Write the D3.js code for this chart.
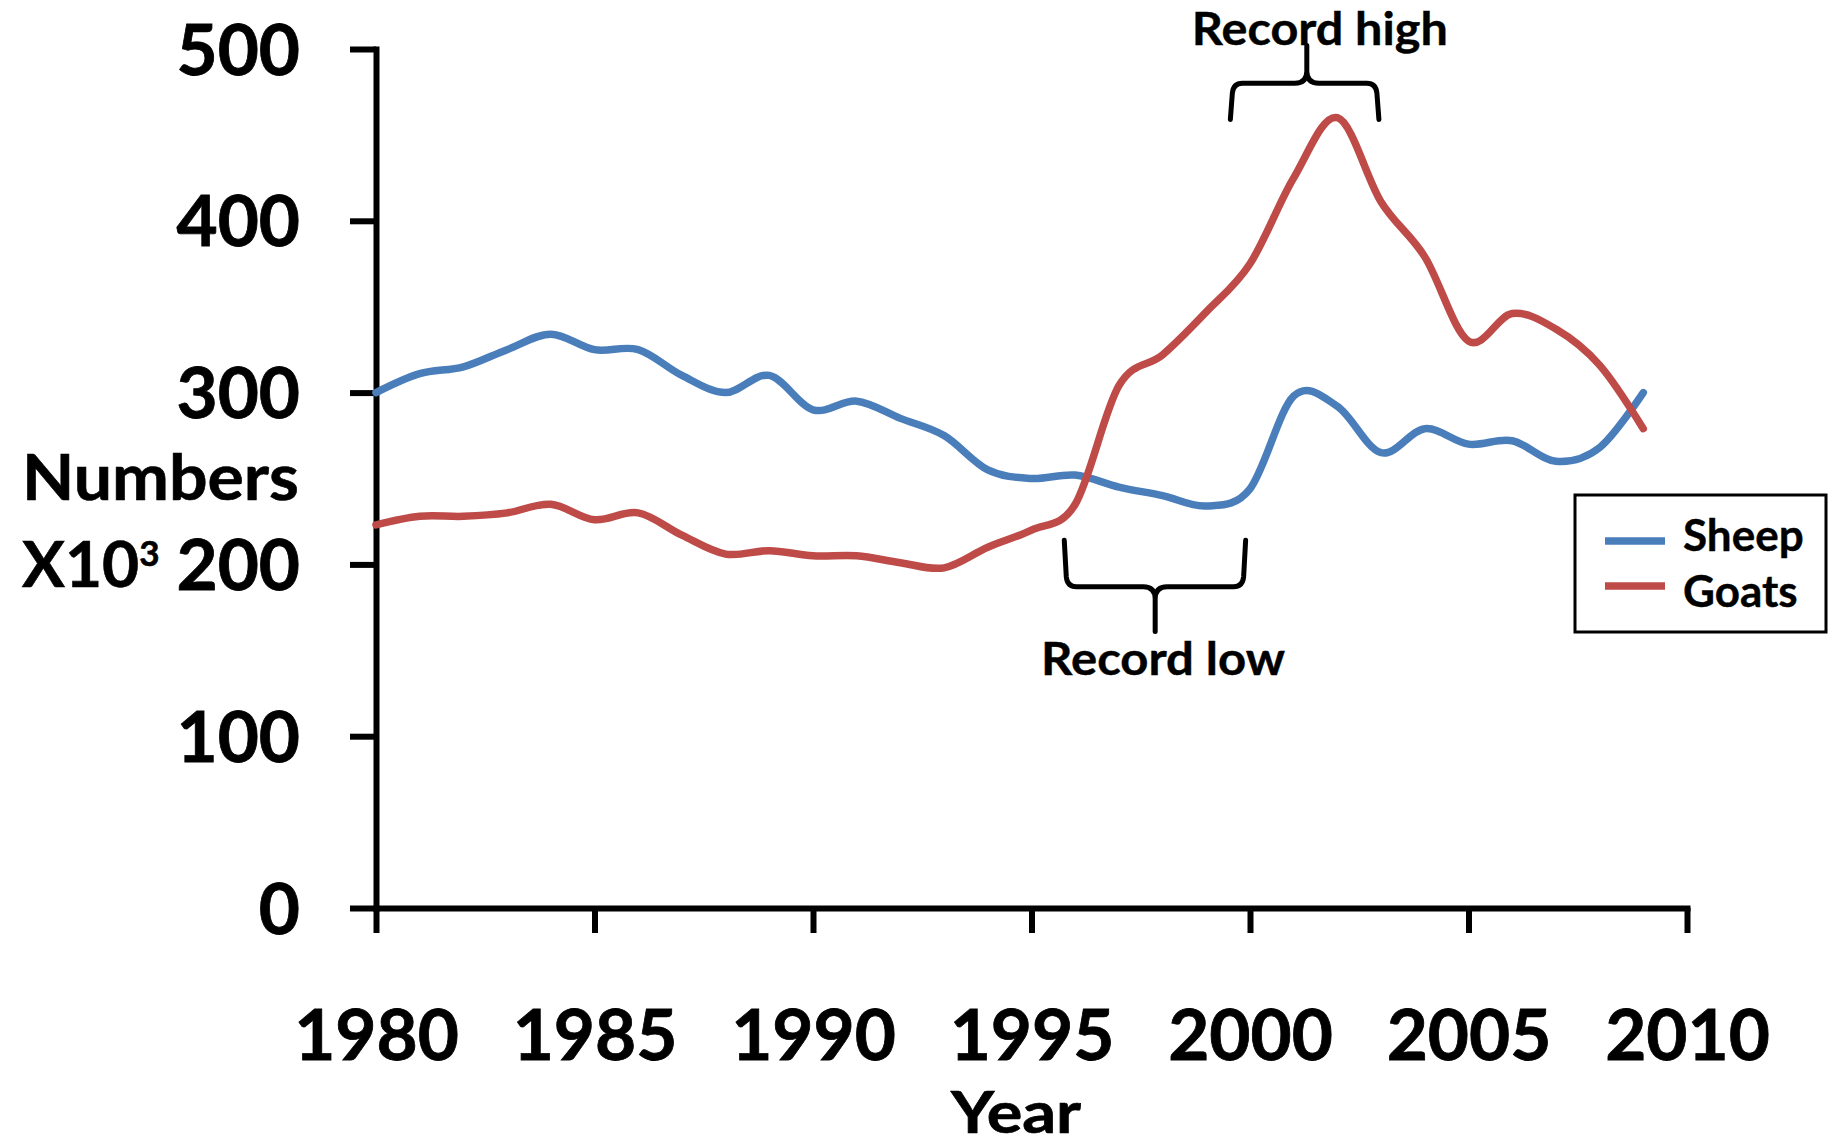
<!DOCTYPE html>
<html>
<head>
<meta charset="utf-8">
<script src="https://cdn.jsdelivr.net/npm/d3@7"></script>
<style>
  html, body { margin: 0; padding: 0; background: #ffffff; }
  svg { display: block; font-family: Lato, "Open Sans", sans-serif; font-weight: bold; }
</style>
</head>
<body>
<svg id="chart" width="1837" height="1145"></svg>
<script>
// ---------- data ----------
const years = [1980,1981,1982,1983,1984,1985,1986,1987,1988,1989,
               1990,1991,1992,1993,1994,1995,1996,1997,1998,1999,
               2000,2001,2002,2003,2004,2005,2006,2007,2008,2009];
const sheep = [300,311,315,325,334,325,325,310,300,310,
               290,295,285,275,255,250,252,245,240,234,
               244,298,292,265,279,270,272,260,268,300];
const goats = [223,228,228,230,235,226,230,217,206,208,
               205,205,201,198,210,220,235,304,322,347,
               375,425,460,411,379,330,346,337,316,279];
const seriesNames = ["Sheep", "Goats"];
const xTicks = [1980,1985,1990,1995,2000,2005,2010];
const yTicks = [0,100,200,300,400,500];
// annotation anchors in data units
const braceHigh = {x0: 1999.55, x1: 2002.95, xm: 2001.3, yEnd: 459, yBar: 480, yTip: 502};
const braceLow  = {x0: 1995.75, x1: 1999.9,  xm: 1997.83, yEnd: 214, yBar: 187, yTip: 161};
const labelHigh = {text: "Record high", x: 1998.67, y: 502.5};
const labelLow  = {text: "Record low",  x: 1995.22, y: 135.7};

// ---------- layout ----------
const svg = d3.select("#chart");
svg.append("rect").attr("width", 1837).attr("height", 1145).attr("fill", "#fff");

const x = d3.scaleLinear().domain([1980, 2010]).range([376, 1687]);
const y = d3.scaleLinear().domain([0, 500]).range([908, 49]);

const colors = {Sheep: "#4A7EBB", Goats: "#BE4B48"};
const AXW = 6;

// y axis
const yAxis = d3.axisLeft(y).tickValues(yTicks).tickSize(26).tickSizeOuter(0).tickPadding(50);
const gy = svg.append("g").attr("transform", `translate(${x(1980)},0)`).call(yAxis);
gy.select(".domain").attr("stroke", "#000").attr("stroke-width", AXW).attr("stroke-linecap", "square");
gy.selectAll(".tick line").attr("stroke", "#000").attr("stroke-width", AXW);
gy.selectAll(".tick text")
  .attr("font-size", 71).attr("font-weight", "bold").attr("fill", "#000")
  .attr("stroke", "#000").attr("stroke-width", 0.8)
  .attr("font-family", "Lato").attr("dy", null).attr("y", 25);

// x axis
const xAxis = d3.axisBottom(x).tickValues(xTicks).tickSize(25).tickSizeOuter(0).tickFormat(d3.format("d"));
const gx = svg.append("g").attr("transform", `translate(0,${y(0)})`).call(xAxis);
gx.select(".domain").attr("stroke", "#000").attr("stroke-width", AXW).attr("stroke-linecap", "square");
gx.selectAll(".tick line").attr("stroke", "#000").attr("stroke-width", AXW);
gx.selectAll(".tick text")
  .attr("font-size", 71).attr("font-weight", "bold").attr("fill", "#000")
  .attr("stroke", "#000").attr("stroke-width", 0.8)
  .attr("font-family", "Lato").attr("dy", null).attr("y", 152);

// axis titles
const yt = svg.append("text").attr("font-size", 64).attr("fill", "#000")
  .attr("stroke", "#000").attr("stroke-width", 0.6);
yt.append("tspan").attr("x", 22).attr("y", 500).attr("textLength", 277)
  .attr("lengthAdjust", "spacingAndGlyphs").text("Numbers");
const yt2 = svg.append("text").attr("font-size", 64).attr("fill", "#000")
  .attr("stroke", "#000").attr("stroke-width", 0.6).attr("x", 22).attr("y", 587);
yt2.append("tspan").text("X10");
yt2.append("tspan").attr("font-size", 35).attr("dy", -21).text("3");

svg.append("text").attr("x", 951).attr("y", 1132.5).attr("font-size", 57).attr("fill", "#000")
  .attr("stroke", "#000").attr("stroke-width", 0.7)
  .attr("textLength", 130).attr("lengthAdjust", "spacingAndGlyphs").text("Year");

// lines
const line = d3.line().x((d, i) => x(years[i])).y(d => y(d)).curve(d3.curveCardinal.tension(0));
[["Sheep", sheep], ["Goats", goats]].forEach(([name, vals]) => {
  svg.append("path").datum(vals)
    .attr("d", line)
    .attr("fill", "none")
    .attr("stroke", colors[name])
    .attr("stroke-width", 7.5)
    .attr("stroke-linecap", "round")
    .attr("stroke-linejoin", "round");
});

// braces
function bracePath(b) {
  const X0 = x(b.x0), X1 = x(b.x1), XM = x(b.xm);
  const YE = y(b.yEnd), YB = y(b.yBar), YT = y(b.yTip);
  const d = Math.sign(YT - YB);
  const r = 10, rc = 12;
  const p = d3.path();
  p.moveTo(X0, YE);
  p.lineTo(X0 + 2, YB - d * r);
  p.quadraticCurveTo(X0 + 3, YB, X0 + r + 2, YB);
  p.lineTo(XM - rc, YB);
  p.quadraticCurveTo(XM, YB, XM, YB + d * rc);
  p.lineTo(XM, YT);
  p.moveTo(XM, YB + d * rc);
  p.quadraticCurveTo(XM, YB, XM + rc, YB);
  p.lineTo(X1 - r - 2, YB);
  p.quadraticCurveTo(X1 - 3, YB, X1 - 2, YB - d * r);
  p.lineTo(X1, YE);
  return p.toString();
}
[braceHigh, braceLow].forEach(b => {
  svg.append("path").attr("d", bracePath(b))
    .attr("fill", "none").attr("stroke", "#000").attr("stroke-width", 5)
    .attr("stroke-linecap", "round").attr("stroke-linejoin", "round");
});
[[labelHigh, 256], [labelLow, 244]].forEach(([l, w]) => {
  svg.append("text").attr("x", x(l.x)).attr("y", y(l.y))
    .attr("font-size", 45).attr("fill", "#000")
    .attr("stroke", "#000").attr("stroke-width", 0.4)
    .attr("textLength", w).attr("lengthAdjust", "spacingAndGlyphs").text(l.text);
});

// legend
const lg = svg.append("g");
lg.append("rect").attr("x", 1575).attr("y", 495).attr("width", 251).attr("height", 137)
  .attr("fill", "#fff").attr("stroke", "#000").attr("stroke-width", 3);
seriesNames.forEach((name, i) => {
  const cy = 541 + i * 45;
  lg.append("line").attr("x1", 1605).attr("x2", 1665).attr("y1", cy).attr("y2", cy)
    .attr("stroke", colors[name]).attr("stroke-width", 7.5);
  lg.append("text").attr("x", 1683).attr("y", 551 + i * 56).attr("font-size", 44)
    .attr("fill", "#000").attr("stroke", "#000").attr("stroke-width", 0.4).text(name);
});
</script>
</body>
</html>
